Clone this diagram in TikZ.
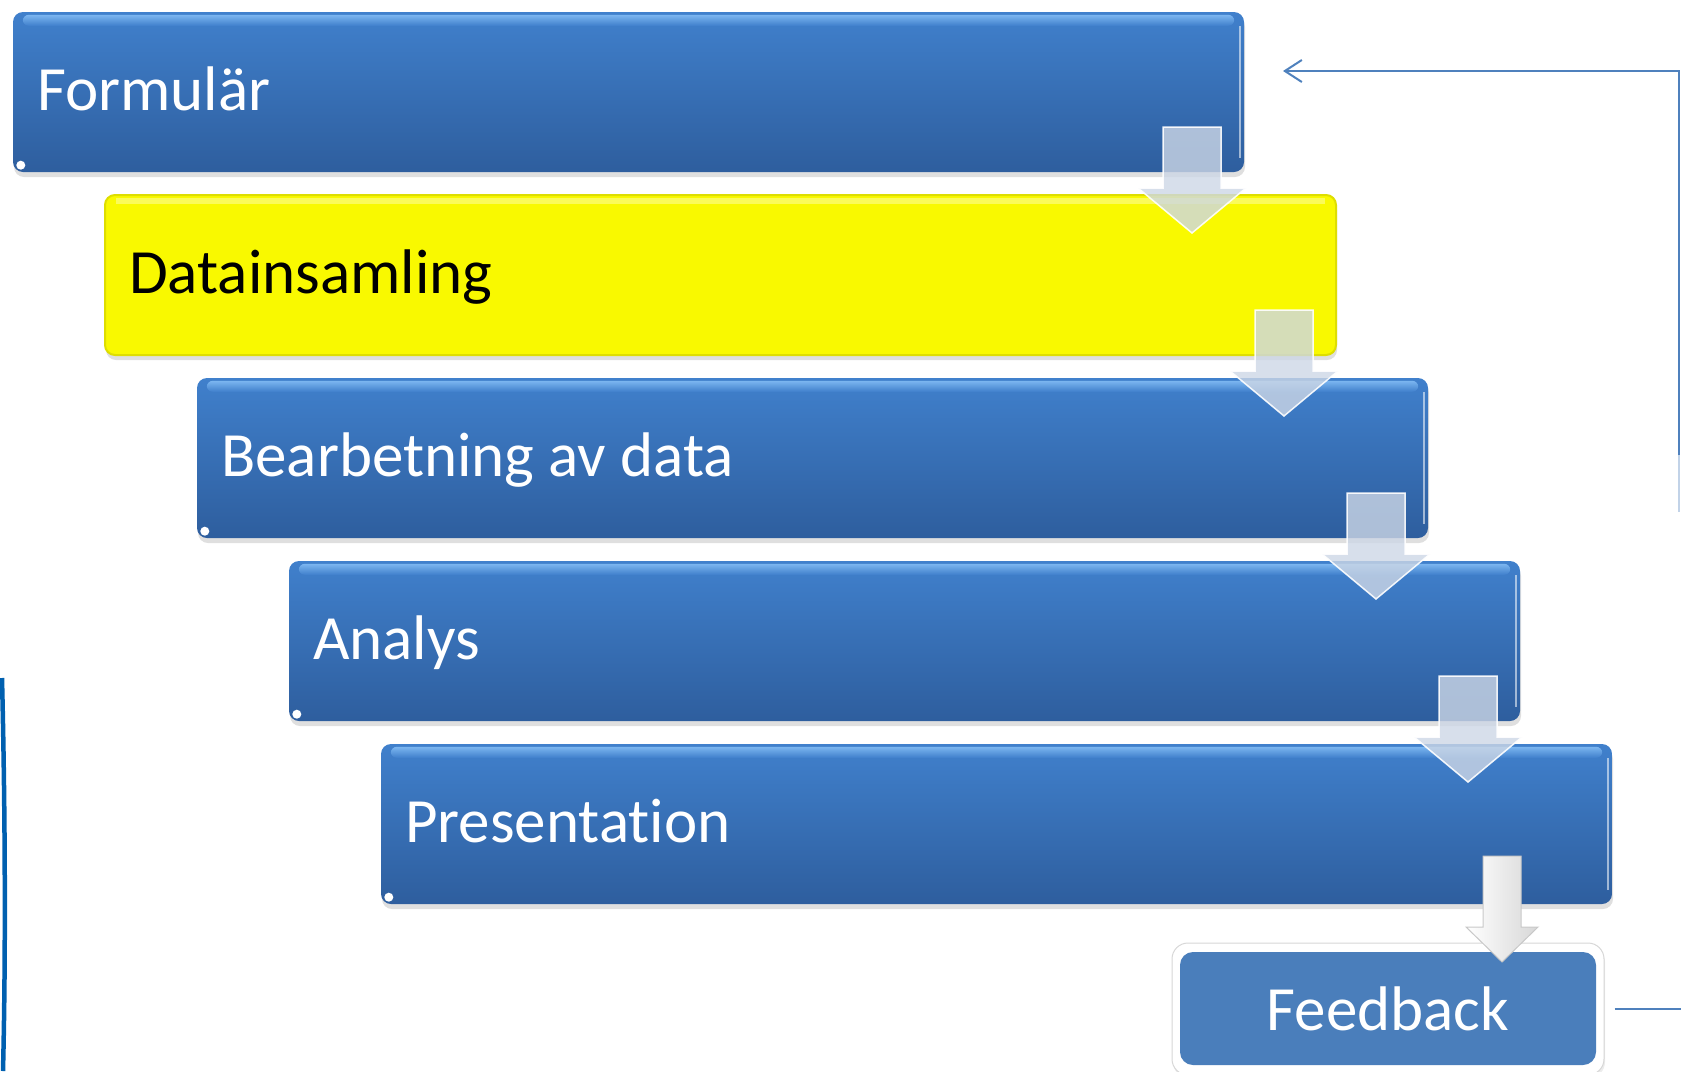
\documentclass[tikz,border=0pt]{standalone}
\usepackage{fontspec}
\setmainfont{Carlito}[RawFeature={-liga;-clig;-calt;-dlig}]
\usetikzlibrary{arrows.meta,shadows,calc}
\definecolor{bluetop}{RGB}{64,128,204}
\definecolor{bluebot}{RGB}{46,94,158}
\definecolor{bluehi}{RGB}{130,188,245}
\definecolor{yel}{RGB}{249,249,0}
\definecolor{yeldark}{RGB}{222,222,0}
\definecolor{fbblue}{RGB}{74,126,187}
\definecolor{loopc}{RGB}{79,129,189}
\definecolor{leftc}{RGB}{0,96,176}
\definecolor{arrowc}{RGB}{205,215,230}
\newcommand\DownArr[7]{% cx, top, headbase, tip, shafthalf, headhalf, style
  \path[#7] (#1-#5,#2) -- (#1+#5,#2) -- (#1+#5,#3) -- (#1+#6,#3) -- (#1,#4)
     -- (#1-#6,#3) -- (#1-#5,#3) -- cycle;}
\begin{document}
\begin{tikzpicture}[x=1pt,y=-1pt,
  stepbox/.style={rectangle, rounded corners=10pt, minimum width=1231pt,
    minimum height=160pt, inner sep=0pt,
    top color=bluetop, bottom color=bluebot,
    drop shadow={shadow xshift=1pt, shadow yshift=-5pt, opacity=0.25}},
  yelbox/.style={stepbox, top color=yel, bottom color=yel, draw=yeldark, line width=2pt},
  lbl/.style={anchor=base west, inner sep=0pt, text=white,
    font=\fontsize{63}{75}\selectfont},
  hiband/.style={rounded corners=6pt, top color=bluehi, bottom color=bluetop, opacity=0.9},
  arrowstyle/.style={fill=arrowc, fill opacity=0.8, draw=white, draw opacity=0.9, line width=1.5pt},
  fbarrow/.style={left color=white, right color={rgb,255:red,215;green,215;blue,215}, draw={rgb,255:red,200;green,200;blue,200}, line width=1pt},
  fbouter/.style={rectangle, rounded corners=16pt, minimum width=432pt, minimum height=132pt,
    fill=white, draw={rgb,255:red,215;green,215;blue,215}, line width=1pt,
    drop shadow={shadow xshift=1pt, shadow yshift=-3pt, opacity=0.15}},
  fbbox/.style={rectangle, rounded corners=13pt, minimum width=416pt, minimum height=113pt,
    fill=fbblue, text=white, font=\fontsize{63}{75}\selectfont, inner sep=0pt},
  loopline/.style={draw=loopc, line width=2pt}
]
\useasboundingbox (0,0) rectangle (1681,1071);

% left partial curve
\draw[leftc, line width=4.5pt] (2,678) .. controls (5,800) and (6,950) .. (3,1071);

% boxes
\node[stepbox] (b1) at (628.5,92) {};
\node[yelbox]  (b2) at (720.5,275) {};
\node[stepbox] (b3) at (812.5,458) {};
\node[stepbox] (b4) at (904.5,641) {};
\node[stepbox] (b5) at (996.5,824) {};

% glossy details on the blue boxes
\foreach \b in {b1,b3,b4,b5}{
  \path[hiband] ($(\b.north west)+(10,3)$) rectangle ($(\b.north east)+(-10,14)$);
  \draw[white, opacity=0.55, line width=2pt] ($(\b.north east)+(-4,14)$) -- ($(\b.south east)+(-4,-14)$);
  \fill[white] ($(\b.south west)+(8,-7)$) circle (4.5);
}
\fill[white, opacity=0.35] ($(b2.north west)+(12,4)$) rectangle ($(b2.north east)+(-12,10)$);

% labels
\node[lbl] (t1) at (37,110) {Formulär};
\node[lbl, text=black] (t2) at (129,293) {Datainsamling};
\node[lbl] (t3) at (221,476) {Bearbetning av data};
\node[lbl] (t4) at (313,659) {Analys};
\node[lbl] (t5) at (405,842) {Presentat\kern0pt ion};

% feedback box
\node[fbouter] (fbo) at (1388,1009) {};
\node[fbbox] (fb) at (1388,1008.5) {Feedback};

% step arrows
\foreach \i in {0,1,2,3}{
  \pgfmathsetmacro\cx{1192+92*\i}
  \pgfmathsetmacro\ty{127+183*\i}
  \pgfmathsetmacro\hb{188+183*\i}
  \pgfmathsetmacro\tp{233+183*\i}
  \DownArr{\cx}{\ty}{\hb}{\tp}{29}{54}{arrowstyle}
}
\DownArr{1502}{856}{927}{962}{19}{36}{fbarrow}

% feedback loop connector (its middle part runs outside the picture)
\coordinate (lpfade) at (1679,512);
\coordinate (lpin) at (1679,455);
\coordinate (lp2) at (1679,71);
\coordinate (lpend) at (1283,71);
\draw[loopline] ([xshift=10pt]fbo.east) -- ++(70,0) coordinate (lpout);
\draw[loopline, opacity=0.35] (lpfade) -- (lpin);
\draw[loopline, -{Straight Barb[length=17pt,width=22pt]}]
  (lpin) -- (lp2) -- (lpend);
\end{tikzpicture}
\end{document}
